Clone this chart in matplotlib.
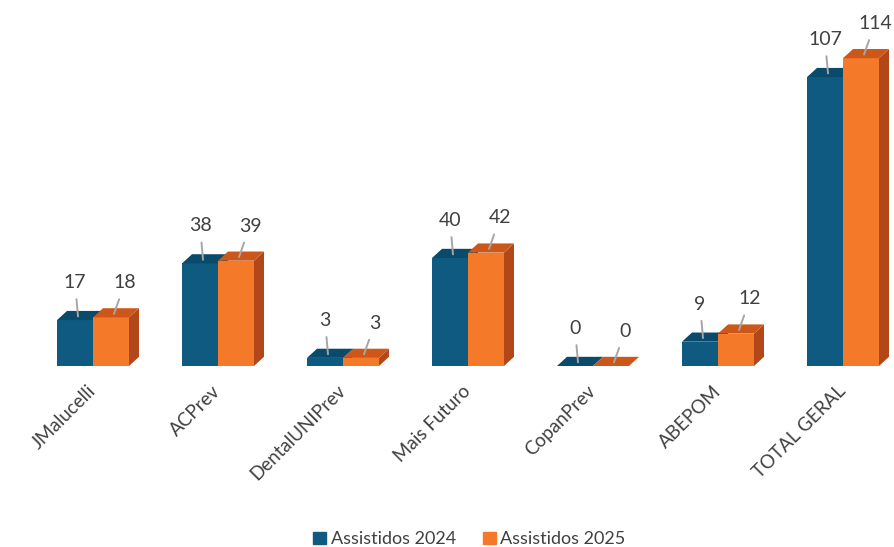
import matplotlib.pyplot as plt
from matplotlib.patches import Polygon
import numpy as np

# data
categorias = ['JMalucelli', 'ACPrev', 'DentalUNIPrev', 'Mais Futuro',
              'CopanPrev', 'ABEPOM', 'TOTAL GERAL']
assistidos_2024 = [17, 38, 3, 40, 0, 9, 107]
assistidos_2025 = [18, 39, 3, 42, 0, 12, 114]

plt.rcParams['font.family'] = ['Lato', 'DejaVu Sans']

# colours: front, top, side
azul = ('#0E5A80', '#0A4A6A', '#083B55')
laranja = ('#F47A2A', '#CC5718', '#B2481A')

fig = plt.figure(figsize=(8.94, 5.47), dpi=100)
ax = fig.add_axes([0, 181 / 547, 1, 1 - 181 / 547])

x = np.arange(len(categorias))
w = 0.288
dx, dy = 0.08, 3.4  # fake 3d depth


def barra3d(xc, v, cores):
    ax.bar(xc, v, w, color=cores[0], linewidth=0, zorder=2)
    x0, x1 = xc - w / 2, xc + w / 2
    top = Polygon([(x0, v), (x1, v), (x1 + dx, v + dy), (x0 + dx, v + dy)],
                  closed=True, facecolor=cores[1], edgecolor='none', zorder=2)
    side = Polygon([(x1, 0), (x1 + dx, dy), (x1 + dx, v + dy), (x1, v)],
                   closed=True, facecolor=cores[2], edgecolor='none', zorder=2)
    ax.add_patch(side)
    ax.add_patch(top)


for i in range(len(categorias)):
    xa = x[i] - w / 2
    xb = x[i] + w / 2
    barra3d(xa, assistidos_2024[i], azul)
    barra3d(xb, assistidos_2025[i], laranja)
    for xc, v, off in [(xa, assistidos_2024[i], (-3, 34)),
                       (xb, assistidos_2025[i], (11, 31))]:
        ax.annotate(str(v), xy=(xc + dx * 0.3, v + dy * 0.4), xytext=off,
                    textcoords='offset pixels', ha='center', va='center',
                    fontsize=14, color='#404040',
                    arrowprops=dict(arrowstyle='-', color='#A6A6A6', lw=1.4,
                                    shrinkA=4, shrinkB=0))

ax.set_xlim(-93 / 125, (894 - 93) / 125)
ax.set_ylim(0, 366 / 2.70)
ax.set_xticks(x, categorias, rotation=45, ha='right', va='center',
              rotation_mode='anchor', fontsize=13.5, color='#404040')
ax.tick_params(axis='x', length=0, pad=16)
ax.set_yticks([])
for s in ax.spines.values():
    s.set_visible(False)

h1 = plt.Rectangle((0, 0), 1, 1, color=azul[0])
h2 = plt.Rectangle((0, 0), 1, 1, color=laranja[0])
leg = fig.legend([h1, h2], ['Assistidos 2024', 'Assistidos 2025'],
                 loc='lower center', bbox_to_anchor=(0.525, -0.03), ncol=2,
                 frameon=False, handlelength=0.7, handleheight=0.7,
                 handletextpad=0.25, columnspacing=1.5, fontsize=13)
for t in leg.get_texts():
    t.set_color('#404040')

fig.savefig('out.png', dpi=100)
